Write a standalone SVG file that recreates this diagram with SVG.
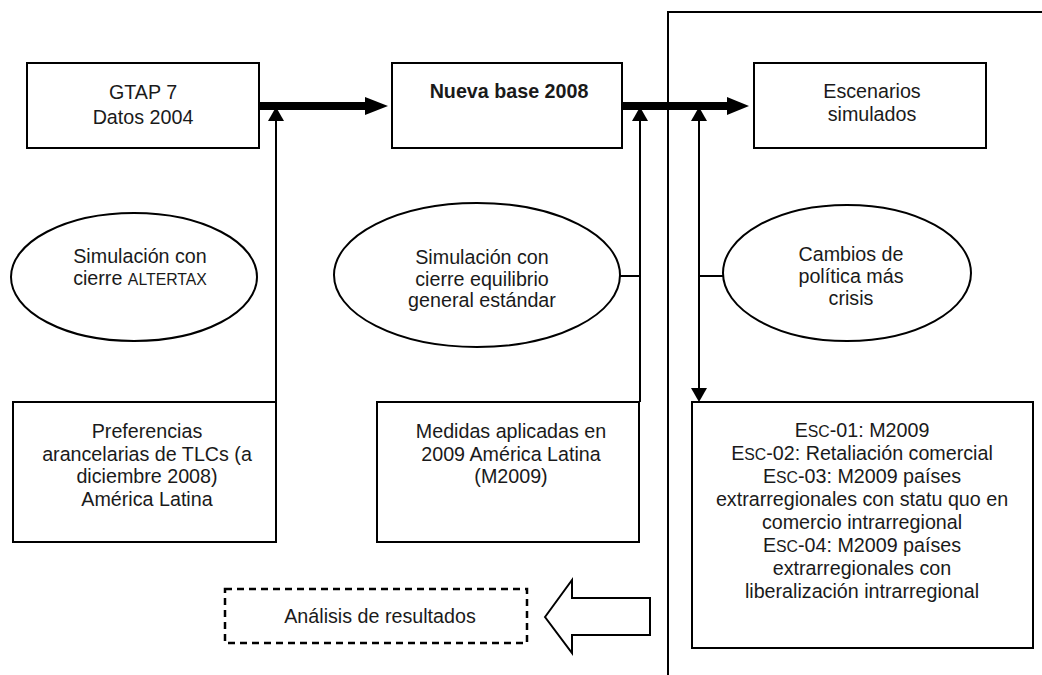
<svg xmlns="http://www.w3.org/2000/svg" width="1042" height="675" viewBox="0 0 1042 675">
<style>
.box{fill:#fff;stroke:#000;stroke-width:2}
.ell{fill:#fff;stroke:#000;stroke-width:2}
.ln{stroke:#000;stroke-width:2;fill:none}
.thick{stroke:#000;stroke-width:8;fill:none}
.hd{fill:#000;stroke:none}
text{font-family:"Liberation Sans",Arial,sans-serif;font-size:19.7px;fill:#1a1a1a;text-anchor:middle}
.sm{font-size:15.8px}
.b{font-weight:bold}
</style>
<rect width="1042" height="675" fill="#fff"/>
<g id="connectors">
<polyline class="ln" points="668,675 668,12 1042,12"/>
<line class="thick" x1="259" y1="106" x2="367" y2="106"/>
<polygon class="hd" points="365,97 388,106 365,115"/>
<line class="thick" x1="622" y1="106" x2="729" y2="106"/>
<polygon class="hd" points="727,97 749,106 727,115"/>
<line class="ln" x1="276" y1="402" x2="276" y2="118"/>
<polygon class="hd" points="268,121 276,107 284,121"/>
<line class="ln" x1="640" y1="402" x2="640" y2="118"/>
<polygon class="hd" points="632,121 640,107 648,121"/>
<line class="ln" x1="699" y1="118" x2="699" y2="390"/>
<polygon class="hd" points="691,121 699,107 707,121"/>
<polygon class="hd" points="691,388 699,402 707,388"/>
<line class="ln" x1="619" y1="276" x2="640" y2="276"/>
<line class="ln" x1="699" y1="276" x2="724" y2="276"/>
<polygon id="hollow-arrow" points="545,617 572,580 572,598 650,598 650,635 572,635 572,653" fill="#fff" stroke="#000" stroke-width="2"/>
</g>
<g id="gtap">
<rect class="box" x="27" y="63" width="232" height="85"/>
<text x="143" y="99">GTAP 7</text>
<text x="143" y="124">Datos 2004</text>
</g>
<g id="nueva-base">
<rect class="box" x="392" y="63" width="230" height="85"/>
<text class="b" x="509" y="98">Nueva base 2008</text>
</g>
<g id="escenarios">
<rect class="box" x="754" y="63" width="232" height="85"/>
<text x="872" y="98">Escenarios</text>
<text x="872" y="121">simulados</text>
</g>
<g id="sim-altertax">
<ellipse class="ell" cx="134" cy="277" rx="123" ry="64"/>
<text x="140" y="263">Simulación con</text>
<text x="140" y="285">cierre <tspan class="sm">ALTERTAX</tspan></text>
</g>
<g id="sim-equilibrio">
<ellipse class="ell" cx="477" cy="275" rx="143" ry="72"/>
<text x="482" y="264">Simulación con</text>
<text x="482" y="286">cierre equilibrio</text>
<text x="482" y="307">general estándar</text>
</g>
<g id="cambios">
<ellipse class="ell" cx="847" cy="273" rx="124" ry="68"/>
<text x="851" y="261">Cambios de</text>
<text x="851" y="283">política más</text>
<text x="851" y="305">crisis</text>
</g>
<g id="preferencias">
<rect class="box" x="13" y="402" width="263" height="140"/>
<text x="147" y="438">Preferencias</text>
<text x="147" y="461">arancelarias de TLCs (a</text>
<text x="147" y="483">diciembre 2008)</text>
<text x="147" y="506">América Latina</text>
</g>
<g id="medidas">
<rect class="box" x="377" y="402" width="262" height="140"/>
<text x="511" y="438">Medidas aplicadas en</text>
<text x="511" y="461">2009 América Latina</text>
<text x="511" y="483">(M2009)</text>
</g>
<g id="esc">
<rect class="box" x="692" y="402" width="341" height="246"/>
<text x="862" y="437">E<tspan class="sm">SC</tspan>-01: M2009</text>
<text x="862" y="460">E<tspan class="sm">SC</tspan>-02: Retaliación comercial</text>
<text x="862" y="483">E<tspan class="sm">SC</tspan>-03: M2009 países</text>
<text x="862" y="506">extrarregionales con statu quo en</text>
<text x="862" y="529">comercio intrarregional</text>
<text x="862" y="552">E<tspan class="sm">SC</tspan>-04: M2009 países</text>
<text x="862" y="575">extrarregionales con</text>
<text x="862" y="598">liberalización intrarregional</text>
</g>
<g id="analisis">
<rect x="225" y="589" width="302" height="54" fill="#fff" stroke="#000" stroke-width="2.5" stroke-dasharray="7,5"/>
<text x="380" y="623">Análisis de resultados</text>
</g>
</svg>
